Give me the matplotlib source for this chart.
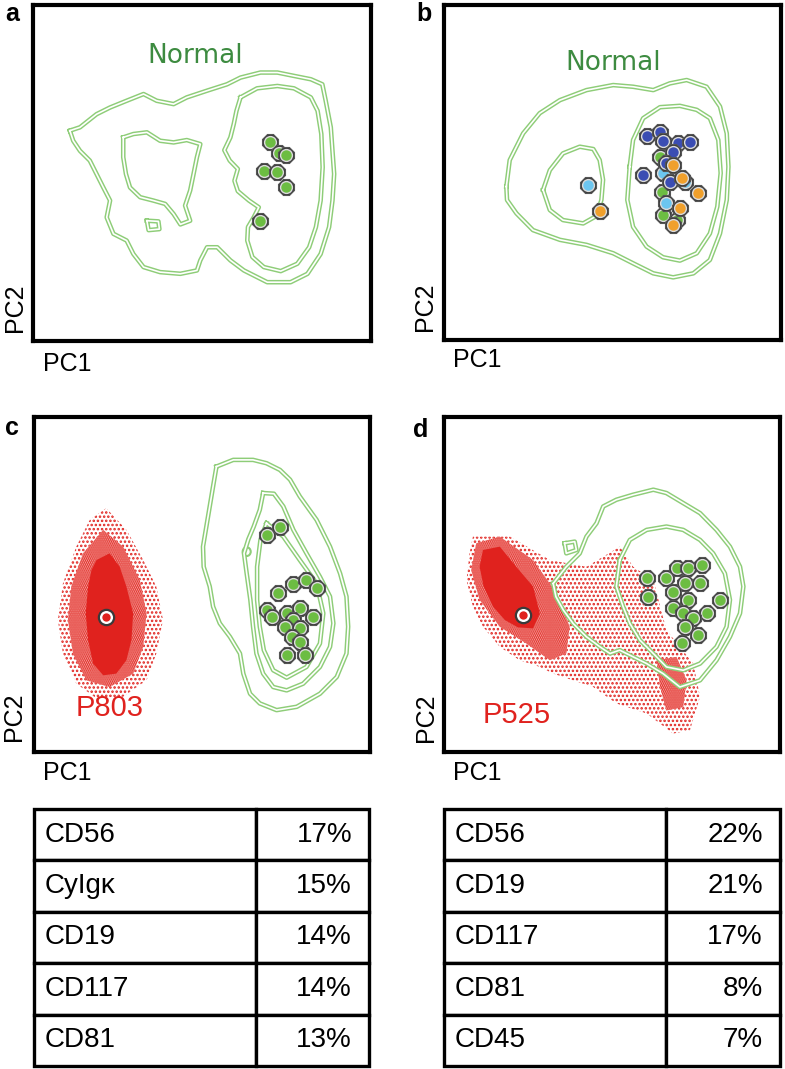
import numpy as np
import matplotlib.pyplot as plt
from matplotlib.patches import Polygon, Ellipse

plt.rcParams['font.family'] = ['Liberation Sans', 'DejaVu Sans']
plt.rcParams['hatch.linewidth'] = 1.2

# colours
LINE_GREEN = '#8ecd78'
TEXT_GREEN = '#3d8b40'
CELL_GREEN = '#6cbd42'
DARK_BLUE = '#3b4db3'
LIGHT_BLUE = '#6cc6f0'
ORANGE = '#f0a02c'
RED = '#e0221e'

# ---------------- panel a : normal reference (PC1, PC2) ----------------
a_outer = np.array([
    (1.09, 6.26), (1.39, 6.36), (1.88, 6.75), (2.28, 6.95), (2.77, 7.15), (3.27, 7.35),
    (3.66, 7.15), (4.16, 7.05), (4.55, 7.25), (5.15, 7.45), (5.74, 7.64), (6.14, 7.84),
    (6.73, 7.99), (7.23, 7.99), (7.72, 7.89), (8.22, 7.79), (8.56, 7.64), (8.66, 7.15),
    (8.81, 6.36), (8.86, 5.66), (8.91, 4.97), (8.86, 4.18), (8.76, 3.39), (8.51, 2.59),
    (8.12, 2.00), (7.62, 1.75), (6.93, 1.75), (6.24, 2.10), (5.84, 2.40), (5.45, 2.79),
    (5.15, 2.79), (4.95, 2.40), (4.85, 2.10), (4.36, 2.00), (3.76, 2.05), (3.27, 2.20),
    (2.97, 2.59), (2.77, 2.99), (2.38, 3.19), (2.18, 3.68), (2.28, 4.18), (2.08, 4.57),
    (1.88, 4.97), (1.68, 5.37), (1.39, 5.66), (1.19, 5.96)])
a_right = np.array([
    (6.14, 7.25), (6.63, 7.52), (7.23, 7.59), (7.72, 7.52), (8.22, 7.25), (8.42, 6.85),
    (8.53, 6.16), (8.57, 5.17), (8.51, 4.18), (8.37, 3.39), (8.17, 2.79), (7.82, 2.30),
    (7.33, 2.08), (6.83, 2.20), (6.49, 2.50), (6.34, 2.99), (6.36, 3.39), (6.53, 3.68),
    (6.68, 3.98), (6.39, 4.18), (6.06, 4.46), (5.96, 4.77), (6.06, 5.12), (5.82, 5.37),
    (5.66, 5.68), (5.84, 6.06), (5.94, 6.46), (6.02, 6.85)])
a_left = np.array([
    (2.67, 6.06), (2.97, 6.16), (3.37, 6.21), (3.76, 5.96), (4.16, 5.91), (4.55, 5.98),
    (4.95, 5.86), (4.85, 5.47), (4.75, 4.97), (4.65, 4.48), (4.50, 4.03), (4.65, 3.58),
    (4.36, 3.47), (4.16, 3.78), (3.91, 4.08), (3.56, 4.18), (3.17, 4.28), (2.87, 4.57),
    (2.75, 4.97), (2.67, 5.47)])
a_islet = np.array([(3.37, 3.58), (3.71, 3.56), (3.74, 3.33), (3.42, 3.30)])
a_cells_x = [7.01, 7.28, 7.48, 6.83, 7.21, 7.48, 6.73]
a_cells_y = [5.91, 5.61, 5.54, 5.05, 5.02, 4.57, 3.58]

# ---------------- panel b : normal reference, several samples ----------------
b_outer = np.array([
    (1.85, 4.58), (1.95, 5.37), (2.35, 6.17), (2.84, 6.77), (3.44, 7.16), (4.23, 7.46),
    (5.02, 7.61), (5.61, 7.56), (6.21, 7.46), (6.70, 7.66), (7.20, 7.76), (7.79, 7.56),
    (8.19, 6.97), (8.39, 6.17), (8.44, 5.17), (8.39, 4.18), (8.19, 3.18), (7.89, 2.39),
    (7.40, 1.99), (6.80, 1.87), (6.21, 1.99), (5.61, 2.29), (5.02, 2.59), (4.23, 2.84),
    (3.44, 2.99), (2.64, 3.28), (2.15, 3.78), (1.87, 4.18)])
b_left = np.array([
    (2.94, 4.48), (3.14, 5.07), (3.53, 5.57), (4.03, 5.77), (4.43, 5.70), (4.62, 5.37),
    (4.72, 4.78), (4.67, 4.18), (4.52, 3.70), (4.13, 3.48), (3.53, 3.58), (3.14, 3.88)])
b_right = np.array([
    (5.51, 5.17), (5.61, 5.97), (5.91, 6.62), (6.41, 6.95), (7.00, 6.99), (7.50, 6.87),
    (7.89, 6.62), (8.14, 5.97), (8.21, 4.98), (8.11, 3.98), (7.89, 3.18), (7.50, 2.59),
    (7.00, 2.37), (6.50, 2.47), (6.01, 2.79), (5.61, 3.38), (5.44, 4.18)])
b_green_x = [6.41, 6.46, 6.50, 6.90]
b_green_y = [5.47, 4.43, 3.73, 3.58]
b_lblue_x = [4.28, 6.50, 7.15, 6.60]
b_lblue_y = [4.63, 4.98, 4.73, 4.08]
b_dblue_x = [6.01, 6.41, 6.50, 6.95, 7.30, 6.80, 6.60, 5.91, 6.70]
b_dblue_y = [6.09, 6.22, 5.95, 5.89, 5.92, 5.62, 5.27, 4.93, 4.73]
b_orange_x = [4.62, 6.80, 7.05, 7.54, 7.00, 6.80]
b_orange_y = [3.86, 5.22, 4.83, 4.38, 3.93, 3.43]

# ---------------- panel c : patient P803 ----------------
c_outer = np.array([
    (5.43, 8.52), (5.93, 8.72), (6.52, 8.72), (6.92, 8.62), (7.32, 8.42), (7.62, 8.13),
    (7.91, 7.63), (8.41, 6.93), (8.81, 6.13), (9.11, 5.33), (9.30, 4.64), (9.35, 3.74),
    (9.30, 2.94), (9.01, 2.24), (8.51, 1.74), (7.82, 1.35), (7.22, 1.25), (6.72, 1.45),
    (6.43, 1.74), (6.23, 2.34), (6.13, 2.94), (5.83, 3.44), (5.53, 3.84), (5.33, 4.34),
    (5.23, 4.94), (5.05, 5.53), (5.03, 6.13), (5.13, 6.73), (5.23, 7.33), (5.33, 7.93)])
c_middle = np.array([
    (6.82, 7.73), (7.14, 7.71), (7.42, 7.33), (7.72, 6.63), (8.11, 5.93), (8.51, 5.23),
    (8.81, 4.64), (8.91, 3.84), (8.81, 3.14), (8.51, 2.54), (8.01, 2.04), (7.52, 1.84),
    (7.12, 1.94), (6.82, 2.34), (6.62, 2.94), (6.52, 3.74), (6.44, 4.54), (6.33, 5.33),
    (6.25, 5.93), (6.38, 6.35), (6.54, 6.73), (6.72, 7.23)])
c_inner = np.array([
    (6.92, 6.83), (7.42, 6.43), (7.91, 5.73), (8.41, 5.03), (8.61, 4.14), (8.51, 3.24),
    (8.11, 2.54), (7.52, 2.22), (7.12, 2.44), (6.84, 3.04), (6.72, 3.74), (6.64, 4.54),
    (6.64, 5.53), (6.74, 6.33)])
c_cells_x = [6.92, 7.32, 7.27, 7.72, 8.11, 8.41, 6.92, 7.07, 7.52, 7.91, 8.31, 7.72,
             7.47, 7.91, 7.67, 7.91, 7.52, 8.06]
c_cells_y = [6.48, 6.73, 4.74, 5.02, 5.13, 4.89, 4.24, 4.02, 4.14, 4.29, 4.02, 3.94,
             3.74, 3.69, 3.44, 3.29, 2.89, 2.89]
c_patient = (2.15, 4.04)
c_cloud_halo = np.array([
    (2.15, 7.28), (2.75, 6.63), (3.25, 5.73), (3.64, 4.94), (3.84, 3.94), (3.64, 2.94),
    (3.35, 2.14), (2.65, 1.65), (1.86, 1.60), (1.26, 2.04), (0.86, 2.94), (0.71, 3.94),
    (0.86, 5.03), (1.26, 6.13), (1.66, 6.93)])
c_cloud_mid = np.array([
    (2.06, 6.63), (2.65, 6.13), (3.15, 5.13), (3.35, 4.14), (3.25, 3.14), (2.95, 2.34),
    (2.25, 1.94), (1.56, 2.14), (1.16, 2.94), (1.01, 3.94), (1.11, 4.94), (1.46, 5.93)])
c_cloud_core = np.array([
    (1.86, 5.73), (2.25, 5.93), (2.55, 5.53), (2.75, 4.94), (2.95, 4.14), (2.90, 3.34),
    (2.75, 2.74), (2.45, 2.34), (2.06, 2.29), (1.76, 2.64), (1.61, 3.34), (1.54, 4.14),
    (1.61, 4.94), (1.71, 5.43)])

# ---------------- panel d : patient P525 ----------------
d_outer = np.array([
    (3.25, 5.03), (3.64, 5.53), (4.04, 5.93), (4.24, 6.43), (4.54, 6.83), (4.74, 7.33),
    (5.13, 7.53), (5.63, 7.68), (6.23, 7.83), (6.62, 7.73), (7.12, 7.43), (7.62, 7.13),
    (8.11, 6.63), (8.51, 6.13), (8.81, 5.53), (8.91, 4.94), (8.81, 4.14), (8.51, 3.44),
    (8.11, 2.74), (7.62, 2.14), (7.02, 1.94), (6.52, 2.34), (6.03, 2.64), (5.63, 2.84),
    (5.23, 3.04), (4.94, 2.94), (4.64, 3.14), (4.24, 3.44), (3.84, 3.84), (3.55, 4.24),
    (3.33, 4.64)])
d_islet = np.array([(3.59, 6.23), (3.89, 6.28), (3.94, 6.03), (3.64, 5.93)])
d_inner = np.array([
    (5.23, 5.73), (5.53, 6.33), (6.03, 6.63), (6.62, 6.73), (7.12, 6.63), (7.62, 6.33),
    (8.01, 5.93), (8.36, 5.33), (8.51, 4.54), (8.41, 3.74), (8.11, 3.14), (7.62, 2.64),
    (7.12, 2.44), (6.62, 2.54), (6.23, 2.94), (5.83, 3.34), (5.53, 3.84), (5.33, 4.34),
    (5.13, 4.94)])
d_cells_x = [6.03, 6.08, 6.62, 6.92, 7.27, 7.67, 7.17, 7.62, 6.82, 7.27, 8.21, 6.82,
             7.12, 7.82, 7.42, 7.17, 7.57, 7.07]
d_cells_y = [5.18, 4.64, 5.18, 5.48, 5.48, 5.58, 5.03, 5.03, 4.79, 4.54, 4.54, 4.29,
             4.14, 4.14, 3.99, 3.74, 3.49, 3.24]
d_patient = (2.35, 4.09)
d_cloud_halo = np.array([
    (0.86, 6.43), (1.96, 6.43), (3.15, 5.73), (4.24, 5.53), (5.23, 6.13), (5.63, 5.53),
    (6.23, 5.13), (6.62, 3.64), (7.42, 2.64), (7.62, 1.65), (7.32, 0.65), (6.82, 0.55),
    (6.03, 1.15), (5.13, 1.45), (4.44, 1.94), (3.84, 2.14), (3.25, 2.34), (2.85, 2.54),
    (2.25, 2.74), (1.66, 3.14), (1.16, 3.74), (0.86, 4.34), (0.67, 5.13), (0.76, 5.93)])
d_cloud_mid = np.array([
    (0.96, 6.23), (1.66, 6.43), (2.65, 5.73), (3.35, 4.74), (3.74, 3.74), (3.64, 2.94),
    (3.15, 2.74), (2.45, 3.24), (1.66, 3.74), (1.06, 4.54), (0.81, 5.43)])
d_cloud_core = np.array([
    (1.16, 6.03), (1.66, 6.13), (2.15, 5.53), (2.65, 4.94), (2.85, 4.14), (2.65, 3.69),
    (2.20, 3.72), (1.81, 3.94), (1.46, 4.34), (1.18, 4.94), (1.06, 5.53)])
d_cloud_spot = np.array([
    (6.33, 2.74), (6.92, 2.84), (7.22, 2.14), (7.12, 1.34), (6.62, 1.24), (6.43, 1.94)])

# ---------------- tables : top discriminating markers ----------------
c_markers = ['CD56', 'CyIgκ', 'CD19', 'CD117', 'CD81']
c_weights = ['17%', '15%', '14%', '14%', '13%']
d_markers = ['CD56', 'CD19', 'CD117', 'CD81', 'CD45']
d_weights = ['22%', '21%', '17%', '8%', '7%']


def draw_contour(ax, pts):
    xy = np.vstack([pts, pts[:1]])
    ax.plot(xy[:, 0], xy[:, 1], color=LINE_GREEN, lw=3.3, solid_joinstyle='round', zorder=3)
    ax.plot(xy[:, 0], xy[:, 1], color='white', lw=1.2, solid_joinstyle='round', zorder=3.1)


def draw_cells(ax, xs, ys, color, z=5):
    for i, (x, y) in enumerate(zip(xs, ys)):
        zz = z + i * 0.01
        ax.plot(x, y, marker='8', ms=13, mfc='#3c3c3c', mec='#555555', mew=0.8, zorder=zz)
        ax.plot(x, y, marker='o', ms=8.5, mfc=color, mec='#dadada', mew=1.0, zorder=zz + 0.005)


def draw_patient(ax, xy):
    ax.plot(*xy, marker='o', ms=11, mfc='white', mec='#3a3a3a', mew=1.6, zorder=6)
    ax.plot(*xy, marker='o', ms=6, mfc=RED, mec=RED, mew=0, zorder=6.1)


def draw_cloud(ax, halo, mid, core, extra=None):
    ax.add_patch(Polygon(halo, closed=True, facecolor='none', edgecolor=RED, lw=0,
                         hatch='....', zorder=1))
    ax.add_patch(Polygon(mid, closed=True, facecolor='#f6b2ac', edgecolor=RED, lw=0,
                         hatch='........', zorder=1.2))
    if extra is not None:
        ax.add_patch(Polygon(extra, closed=True, facecolor='#f6b2ac', edgecolor=RED, lw=0,
                             hatch='........', zorder=1.2))
    ax.add_patch(Polygon(core, closed=True, facecolor=RED, edgecolor=RED, lw=0, zorder=1.4))


def frame(ax):
    ax.set_xlim(0, 10)
    ax.set_ylim(0, 10)
    ax.set_xticks([])
    ax.set_yticks([])
    for s in ax.spines.values():
        s.set_linewidth(3)
        s.set_color('black')


W, H = 785, 1069
fig = plt.figure(figsize=(W / 100, H / 100), dpi=100)


def box(l, t, r, b):
    return [l / W, 1 - b / H, (r - l) / W, (b - t) / H]


ax_a = fig.add_axes(box(33, 5, 371, 341))
ax_b = fig.add_axes(box(444, 5, 781, 340))
ax_c = fig.add_axes(box(34, 417, 370, 752))
ax_d = fig.add_axes(box(444, 417, 780, 752))
for ax in (ax_a, ax_b, ax_c, ax_d):
    frame(ax)

# panel a
for pts in (a_outer, a_right, a_left, a_islet):
    draw_contour(ax_a, pts)
draw_cells(ax_a, a_cells_x, a_cells_y, CELL_GREEN)
ax_a.text(4.8, 8.49, 'Normal', color=TEXT_GREEN, fontsize=19, family='DejaVu Sans',
          ha='center', va='center')

# panel b
for pts in (b_outer, b_left, b_right):
    draw_contour(ax_b, pts)
draw_cells(ax_b, b_green_x, b_green_y, CELL_GREEN, z=5)
draw_cells(ax_b, b_lblue_x, b_lblue_y, LIGHT_BLUE, z=5.2)
draw_cells(ax_b, b_dblue_x, b_dblue_y, DARK_BLUE, z=5.4)
draw_cells(ax_b, b_orange_x, b_orange_y, ORANGE, z=5.6)
ax_b.text(5.02, 8.26, 'Normal', color=TEXT_GREEN, fontsize=19, family='DejaVu Sans',
          ha='center', va='center')

# panel c
draw_cloud(ax_c, c_cloud_halo, c_cloud_mid, c_cloud_core)
for pts in (c_outer, c_middle, c_inner):
    draw_contour(ax_c, pts)
ax_c.add_patch(Ellipse((6.33, 5.98), 0.24, 0.26, facecolor='none', edgecolor=LINE_GREEN,
                       lw=1.5, zorder=3))
draw_cells(ax_c, c_cells_x, c_cells_y, CELL_GREEN)
draw_patient(ax_c, c_patient)
ax_c.text(2.25, 1.3, 'P803', color=RED, fontsize=21, ha='center', va='center')

# panel d
draw_cloud(ax_d, d_cloud_halo, d_cloud_mid, d_cloud_core, extra=d_cloud_spot)
for pts in (d_outer, d_islet, d_inner):
    draw_contour(ax_d, pts)
draw_cells(ax_d, d_cells_x, d_cells_y, CELL_GREEN)
draw_patient(ax_d, d_patient)
ax_d.text(2.15, 1.1, 'P525', color=RED, fontsize=21, ha='center', va='center')

# axis names and panel letters
labels = [('a', 12, 14), ('b', 424, 14), ('c', 12, 428), ('d', 421, 430)]
for s, x, y in labels:
    fig.text(x / W, 1 - y / H, s, fontsize=18, fontweight='bold', ha='center', va='center')
for x1, y1, x2, y2 in [(67, 364, 15, 308), (477, 360, 425, 307),
                       (67, 773, 14, 717), (477, 773, 426, 718)]:
    fig.text(x1 / W, 1 - y1 / H, 'PC1', fontsize=18, ha='center', va='center')
    fig.text(x2 / W, 1 - y2 / H, 'PC2', fontsize=18, rotation=90, ha='center', va='center')

# tables
for (l, r), markers, weights in [((34, 369), c_markers, c_weights),
                                 ((444, 780), d_markers, d_weights)]:
    tax = fig.add_axes(box(l, 809, r, 1066))
    tax.axis('off')
    tab = tax.table(cellText=[[m, w] for m, w in zip(markers, weights)],
                    colWidths=[0.662, 0.338], cellLoc='left', bbox=[0, 0, 1, 1])
    tab.auto_set_font_size(False)
    for (i, j), cell in tab.get_celld().items():
        cell.set_linewidth(2.4)
        cell.set_edgecolor('black')
        if j == 1:
            cell._loc = 'right'
            cell.get_text().set_horizontalalignment('right')
            cell.PAD = 0.15
        else:
            cell.PAD = 0.05
        cell.get_text().set_fontsize(20)

fig.savefig('out.png', dpi=100)
